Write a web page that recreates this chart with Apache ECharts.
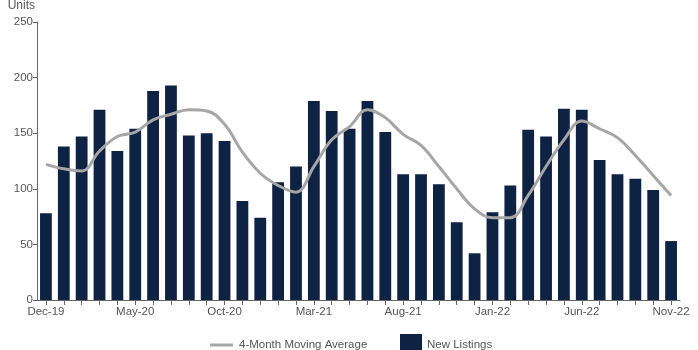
<!DOCTYPE html>
<html><head><meta charset="utf-8">
<script src="https://cdn.jsdelivr.net/npm/echarts@6/dist/echarts.min.js"></script>
<style>html,body{margin:0;padding:0;background:#fff}#c{width:698px;height:350px}</style>
</head><body><div id="c"></div>
<script>
var categories = ['Dec-19','Jan-20','Feb-20','Mar-20','Apr-20','May-20','Jun-20','Jul-20','Aug-20','Sep-20','Oct-20','Nov-20',
 'Dec-20','Jan-21','Feb-21','Mar-21','Apr-21','May-21','Jun-21','Jul-21','Aug-21','Sep-21','Oct-21','Nov-21',
 'Dec-21','Jan-22','Feb-22','Mar-22','Apr-22','May-22','Jun-22','Jul-22','Aug-22','Sep-22','Oct-22','Nov-22'];
var newListings = [78,138,147,171,134,154,188,193,148,150,143,89,
 74,106,120,179,170,154,179,151,113,113,104,70,
 42,79,103,153,147,172,171,126,113,109,99,53];
var movingAverage = [122,118,116,134,147,151,162,167,171,170,158,133,
 114,103,97,120,144,156,171,164,149,139,120,100,
 82,74,74,94,120,144,161,154,146,130,112,94];
var yTicks = [0,50,100,150,200,250];

var chart = echarts.init(document.getElementById('c'));
var txt = '#555';
chart.setOption({
  animation:false,
  textStyle:{fontFamily:'Liberation Sans, Arial, sans-serif'},
  grid:{left:37,right:18,top:20,bottom:50,containLabel:false},
  legend:[{
    top:334,left:205,itemWidth:23,itemHeight:3,itemGap:6,
    textStyle:{color:txt,fontSize:11.5,padding:[0,0,0,1]},
    data:[{name:'4-Month Moving Average',icon:'rect',itemStyle:{color:'#a6a6a6'}}]
  },{
    top:329,left:395,itemWidth:22,itemHeight:22,
    textStyle:{color:txt,fontSize:11.5},
    data:[{name:'New Listings',icon:'rect'}]
  }],
  xAxis:{
    type:'category',data:categories,boundaryGap:true,
    axisLine:{lineStyle:{color:'#666',width:1}},
    axisTick:{show:true,alignWithLabel:true,interval:0,length:5,lineStyle:{color:'#666'}},
    axisLabel:{interval:4,color:txt,fontSize:11.5,margin:6}
  },
  yAxis:{
    type:'value',min:yTicks[0],max:yTicks[yTicks.length-1],interval:50,
    name:'Units',nameLocation:'end',nameGap:10,
    nameTextStyle:{color:txt,fontSize:12,align:'right',padding:[0,2,0,0]},
    axisLine:{show:true,lineStyle:{color:'#666'}},
    axisTick:{show:true,length:4,lineStyle:{color:'#666'}},
    splitLine:{show:false},
    axisLabel:{color:txt,fontSize:11.5,margin:4}
  },
  series:[
    {name:'New Listings',type:'bar',data:newListings,barWidth:'66%',itemStyle:{color:'#0e2244'},z:2},
    {name:'4-Month Moving Average',type:'line',data:movingAverage,smooth:0.4,symbol:'none',
     lineStyle:{color:'#a6a6a6',width:3},itemStyle:{color:'#a6a6a6'},z:3}
  ]
});
</script></body></html>
